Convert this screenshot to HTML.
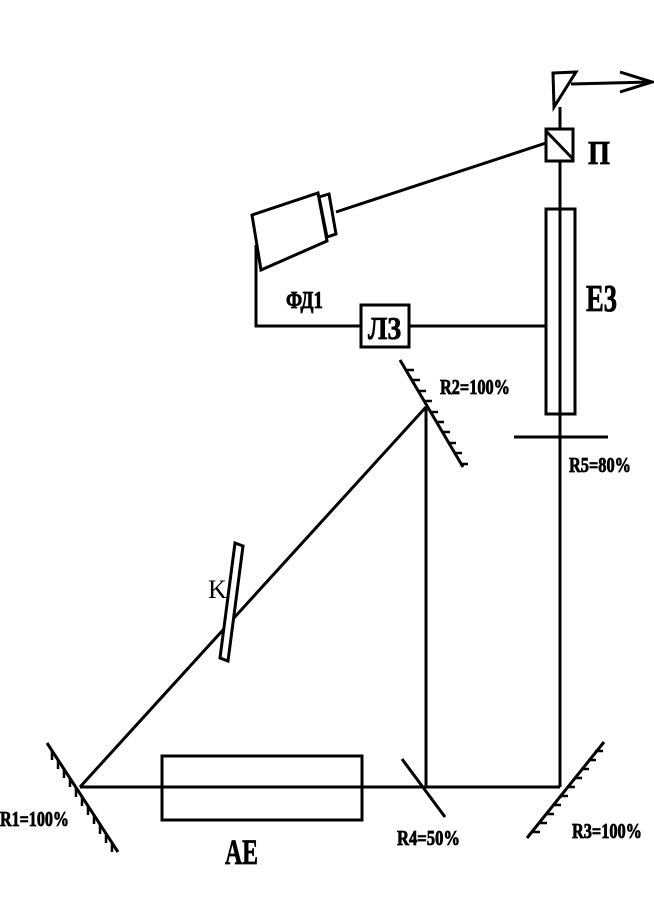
<!DOCTYPE html>
<html><head><meta charset="utf-8"><style>html,body{margin:0;padding:0;background:#fff}svg{display:block}</style></head>
<body>
<svg width="654" height="904" viewBox="0 0 654 904" xmlns="http://www.w3.org/2000/svg" stroke="#000" stroke-width="3" fill="none">
<g>
<line x1="80" y1="787" x2="560" y2="787"/>
<line x1="426" y1="787" x2="426" y2="407"/>
<line x1="426" y1="407" x2="80" y2="787"/>
<line x1="560" y1="787" x2="560" y2="107"/>
<line x1="546" y1="143" x2="336" y2="212"/>
<line x1="571" y1="84" x2="652" y2="82"/>
<polyline points="620,72 652,82 620,92"/>
</g>
<g>
<line x1="47" y1="743" x2="118" y2="852"/>
<path d="M52,751 v9 M58,760 v9 M64,769 v9 M70,778 v9 M76,788 v9 M82,797 v9 M88,806 v9 M94,815 v9 M100,825 v9 M106,834 v9 M112,843 v9" stroke-width="2.5"/>
</g>
<rect x="162" y="756" width="200" height="64"/>
<line x1="402" y1="759" x2="445" y2="817"/>
<g>
<line x1="527" y1="838" x2="604" y2="742"/>
<path d="M532,832 h8 M539,823 h8 M546,814 h8 M553,805 h8 M560,796 h8 M567,787 h8 M574,778 h8 M581,769 h8 M588,760 h8 M595,751 h8" stroke-width="2.5"/>
</g>
<g>
<line x1="400" y1="360" x2="463" y2="467"/>
<path d="M406,370 h8 M412,380 h8 M418,391 h8 M424,401 h8 M430,412 h8 M436,422 h8 M442,432 h8 M448,443 h8 M454,453 h8 M460,464 h8" stroke-width="2.5"/>
</g>
<polygon points="235,543 243,546 228,661 220,658" fill="#fff"/>
<line x1="514" y1="437" x2="608" y2="437"/>
<rect x="546" y="209" width="29" height="205"/>
<g>
<rect x="546" y="129" width="27" height="32" fill="#fff"/>
<line x1="546" y1="131" x2="573" y2="159"/>
</g>
<polygon points="553,73 576,72 554,107" fill="#fff"/>
<g>
<polygon points="252,215 318,193 327,241 261,270" fill="#fff"/>
<polygon points="319,197 329,194 336,234 327,237" fill="#fff"/>
</g>
<polyline points="256,245 256,326 361,326"/>
<line x1="409" y1="326" x2="546" y2="326"/>
<rect x="361" y="305" width="48" height="42" fill="#fff"/>
<g stroke="#000" stroke-width="0.8" fill="#000" font-family="'Liberation Serif','DejaVu Serif',serif" font-weight="bold">
<text x="368" y="339" font-size="32" textLength="33" lengthAdjust="spacingAndGlyphs">ЛЗ</text>
<text x="286" y="308" font-size="24" textLength="37" lengthAdjust="spacingAndGlyphs">ФД1</text>
<text x="588" y="164" font-size="34" textLength="22" lengthAdjust="spacingAndGlyphs">П</text>
<text x="586" y="311" font-size="38" textLength="31" lengthAdjust="spacingAndGlyphs">Е3</text>
<text x="440" y="394" font-size="21" textLength="70" lengthAdjust="spacingAndGlyphs">R2=100%</text>
<text x="569" y="472" font-size="21" textLength="62" lengthAdjust="spacingAndGlyphs">R5=80%</text>
<text x="0" y="826" font-size="21" textLength="69" lengthAdjust="spacingAndGlyphs">R1=100%</text>
<text x="397" y="845" font-size="21" textLength="63" lengthAdjust="spacingAndGlyphs">R4=50%</text>
<text x="572" y="838" font-size="21" textLength="70" lengthAdjust="spacingAndGlyphs">R3=100%</text>
<text x="225" y="864" font-size="36" textLength="33" lengthAdjust="spacingAndGlyphs">AE</text>
</g>
<text x="208" y="598" font-size="26" stroke="none" fill="#000" font-family="'Liberation Serif',serif">K</text>
</svg>
</body></html>
